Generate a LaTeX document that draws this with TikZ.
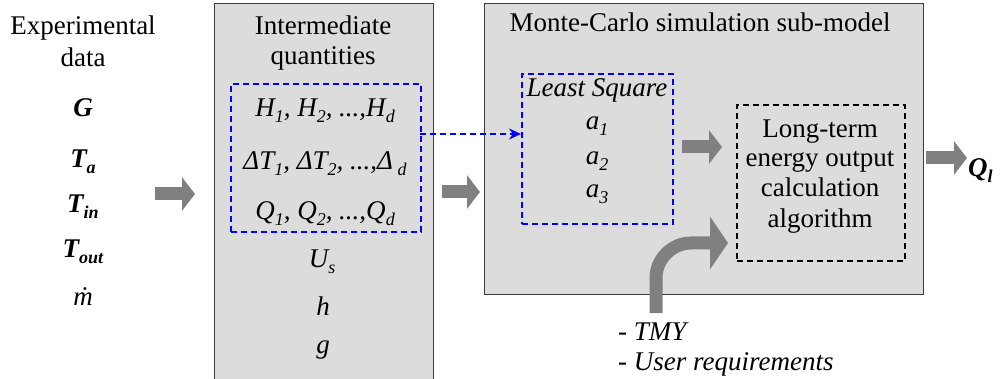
\documentclass[tikz,border=0pt]{standalone}
\usepackage{fontspec}
\setmainfont{LiberationSerif}[Extension=.ttf, UprightFont=*-Regular, ItalicFont=*-Italic, BoldFont=*-Bold, BoldItalicFont=*-BoldItalic]
\usetikzlibrary{arrows.meta}
\newcommand{\sbs}[1]{\raisebox{-0.22em}{\fontsize{18}{18}\selectfont #1}}
\definecolor{boxgray}{RGB}{220,220,220}
\definecolor{arrgray}{RGB}{128,128,128}
\definecolor{edgegray}{RGB}{60,60,60}
\begin{document}
\begin{tikzpicture}[x=1pt,y=-1pt,
  txt/.style={font=\fontsize{27}{31}\selectfont, inner sep=0pt, anchor=base},
  itxt/.style={txt, font=\fontsize{27}{31}\selectfont\itshape},
  panel/.style={draw=edgegray, line width=0.9pt, fill=boxgray, anchor=north west, inner sep=0pt},
  bluebox/.style={draw=blue, line width=1.6pt, dash pattern=on 6pt off 4pt, anchor=north west, inner sep=0pt},
  blackbox/.style={draw=black, line width=1.6pt, dash pattern=on 6pt off 4pt, anchor=north west, inner sep=0pt},
  fatarrow/.style={draw=arrgray, line width=13pt, -{Triangle[width=33pt,length=13pt]}},
  curvearrow/.style={draw=arrgray, line width=13pt, -{Triangle[width=52pt,length=18pt]}},
  bluearrow/.style={draw=blue, line width=1.6pt, dash pattern=on 6pt off 4pt, -{Stealth[length=12pt,width=11pt]}}
]
\useasboundingbox (0,0) rectangle (1003,379);

% left column
\node[txt] (exp1) at (83,35) {Experimental};
\node[txt] (exp2) at (83,67) {data};
\node[txt] (vG) at (83,117) {\textbf{\textit{G}}};
\node[txt] (vTa) at (83,168) {\textbf{\textit{T\sbs{a}}}};
\node[txt] (vTin) at (83,213) {\textbf{\textit{T\sbs{in}}}};
\node[txt] (vTout) at (83,258) {\textbf{\textit{T\sbs{out}}}};
\node[txt] (vm) at (83,305) {\textit{\.{m}}};

% intermediate panel
\node[panel, minimum width=219pt, minimum height=392pt] (inter) at (214,3) {};
\node[txt] (it1) at (323,35) {Intermediate};
\node[txt] (it2) at (323,65) {quantities};
\node[bluebox, minimum width=190pt, minimum height=148pt] (blue1) at (230,83) {};
\node[itxt] (rH) at (325,117) {H\sbs{1}, H\sbs{2}, ...,H\sbs{d}};
\node[itxt] (rT) at (325,170) {ΔT\sbs{1}, ΔT\sbs{2}, ...,Δ\,\sbs{d}};
\node[itxt] (rQ) at (325,220) {Q\sbs{1}, Q\sbs{2}, ...,Q\sbs{d}};
\node[itxt] (rU) at (322,268) {U\sbs{s}};
\node[itxt] (rh) at (323,315) {h};
\node[itxt] (rg) at (323,353) {g};

% Monte-Carlo panel
\node[panel, minimum width=439pt, minimum height=291pt] (mc) at (484,3) {};
\node[txt] (mct) at (700,32) {Monte-Carlo simulation sub-model};
\node[bluebox, minimum width=151pt, minimum height=150pt] (blue2) at (521,73) {};
\node[itxt] (ls) at (597,97) {Least Square};
\node[itxt] (a1) at (597,130) {a\sbs{1}};
\node[itxt] (a2) at (597,165) {a\sbs{2}};
\node[itxt] (a3) at (597,198) {a\sbs{3}};
\node[blackbox, minimum width=168pt, minimum height=156pt] (calc) at (736,104) {};
\node[txt] (c1) at (820,138) {Long-term};
\node[txt] (c2) at (820,167) {energy output};
\node[txt] (c3) at (820,197) {calculation};
\node[txt] (c4) at (820,228) {algorithm};

% output
\node[txt, anchor=base west] (Ql) at (968,177) {\textbf{\textit{Q\sbs{l}}}};

% bottom inputs
\node[itxt, anchor=base west] (tmy) at (618,340) {- TMY};
\node[itxt, anchor=base west] (user) at (618,370) {- User requirements};

% connectors
\coordinate (b1out) at (420,134);
\coordinate (b2in) at (521,134);
\draw[bluearrow] (b1out) -- (b2in);

\coordinate (g1s) at (155,194);
\coordinate (g1e) at (195,194);
\draw[fatarrow] (g1s) -- (g1e);
\coordinate (g2s) at (442,192);
\coordinate (g2e) at (480,192);
\draw[fatarrow] (g2s) -- (g2e);
\coordinate (g3s) at (682,147);
\coordinate (g3e) at (722,147);
\draw[fatarrow] (g3s) -- (g3e);
\coordinate (g4s) at (926,158);
\coordinate (g4e) at (967,158);
\draw[fatarrow] (g4s) -- (g4e);

\coordinate (cs) at (656,313);
\coordinate (cm) at (656,278);
\coordinate (ce) at (728,243);
\draw[curvearrow] (cs) -- (cm) .. controls (656,259) and (672,243) .. (691,243) -- (ce);
\end{tikzpicture}
\end{document}
